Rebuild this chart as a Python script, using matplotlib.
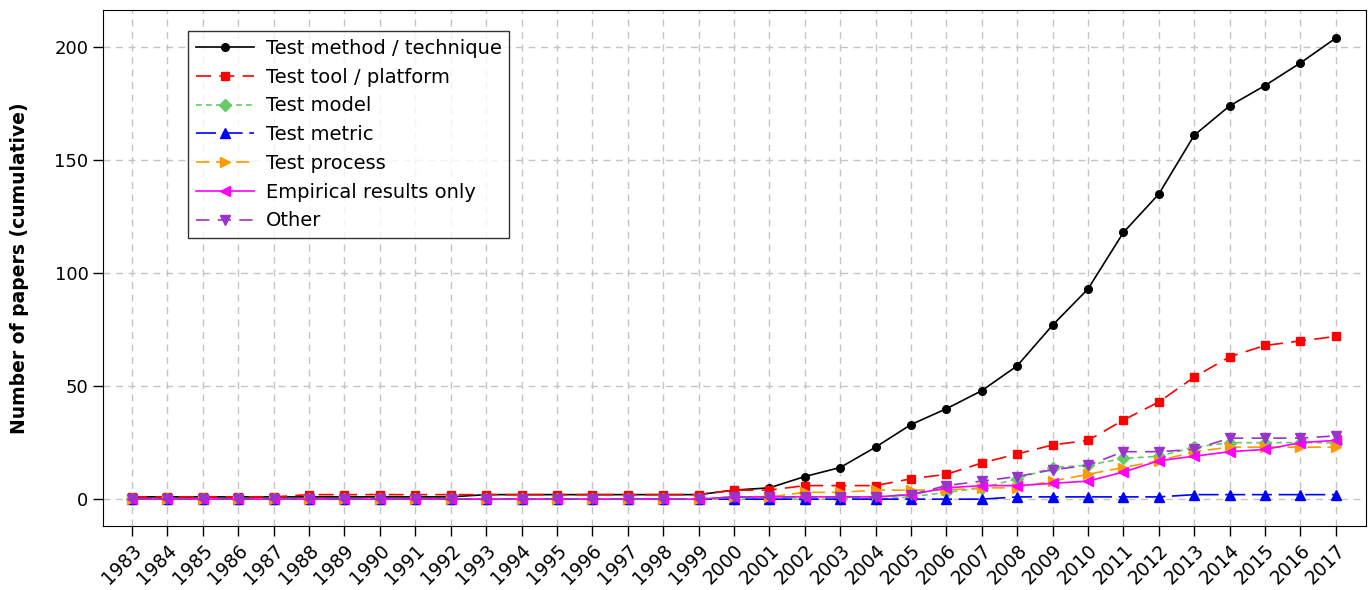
import matplotlib
matplotlib.use("Agg")
import matplotlib.pyplot as plt

years = list(range(1983, 2018))

test_method = [1, 1, 1, 1, 1, 1, 1, 1, 1, 1, 2, 2, 2, 2, 2, 2, 2,
               4, 5, 10, 14, 23, 33, 40, 48, 59, 77, 93, 118, 135, 161, 174, 183, 193, 204]
test_tool = [1, 1, 1, 1, 1, 2, 2, 2, 2, 2, 2, 2, 2, 2, 2, 2, 2,
             4, 4, 6, 6, 6, 9, 11, 16, 20, 24, 26, 35, 43, 54, 63, 68, 70, 72]
test_model = [0] * 17 + [0, 0, 0, 0, 0, 1, 3, 5, 9, 14, 15, 18, 19, 23, 25, 25, 25, 25]
test_metric = [0] * 17 + [0, 0, 0, 0, 0, 0, 0, 0, 1, 1, 1, 1, 1, 2, 2, 2, 2, 2]
test_process = [0] * 17 + [1, 1, 3, 3, 4, 4, 4, 5, 5, 8, 11, 14, 17, 21, 23, 23, 23, 23]
empirical = [0] * 17 + [1, 1, 1, 1, 1, 2, 5, 6, 6, 7, 8, 12, 17, 19, 21, 22, 25, 26]
other = [0] * 17 + [1, 1, 1, 1, 1, 2, 6, 8, 10, 13, 15, 21, 21, 22, 27, 27, 27, 28]

labels = ["Test method / technique", "Test tool / platform", "Test model",
          "Test metric", "Test process", "Empirical results only", "Other"]

plt.rcParams["font.family"] = ["DejaVu Sans"]

fig, ax = plt.subplots(figsize=(13.68, 5.9), dpi=100)
fig.subplots_adjust(left=0.0753, right=0.9985, top=0.983, bottom=0.108)

# (values, colour, marker, dash pattern, marker size)
styles = [
    (test_method, "black", "o", None, 5.5),
    (test_tool, "#ff0000", "s", (9, 5), 6),
    (test_model, "#66cc66", "D", (3.5, 2.5), 6),
    (test_metric, "#0000ff", "^", (12, 4), 7.5),
    (test_process, "#ff9900", ">", (8, 4), 7.5),
    (empirical, "#ff00ff", "<", None, 7.5),
    (other, "#9933cc", "v", (8, 5), 7.5),
]

for (vals, color, marker, dash, ms), label in zip(styles, labels):
    line, = ax.plot(years, vals, color=color, marker=marker, markersize=ms,
                    linewidth=1.2, label=label)
    if dash is not None:
        line.set_dashes(dash)

ax.set_xlim(1982.18, 2017.85)
ax.set_ylim(-12, 216.4)
ax.set_xticks(years)
ax.set_xticklabels([str(y) for y in years], rotation=45, ha="right",
                   rotation_mode="anchor", fontsize=13.5)
ax.set_yticks([0, 50, 100, 150, 200])
ax.tick_params(axis="y", labelsize=13)
ax.tick_params(direction="out", length=7, width=1, color="black")
ax.set_ylabel("Number of papers (cumulative)", fontsize=13.5,
              fontweight="bold", labelpad=18)

ax.grid(True, color="#c4c4c4", linestyle=(0, (5, 4)), linewidth=1)
ax.set_axisbelow(True)

leg = ax.legend(loc="upper left", bbox_to_anchor=(0.0673, 0.959), fontsize=14,
                frameon=True, fancybox=False, handlelength=3.0,
                labelspacing=0.5, borderpad=0.4, handletextpad=0.6,
                borderaxespad=0)
leg.get_frame().set_edgecolor("black")
leg.get_frame().set_linewidth(1)

plt.savefig("out.png", dpi=100)
